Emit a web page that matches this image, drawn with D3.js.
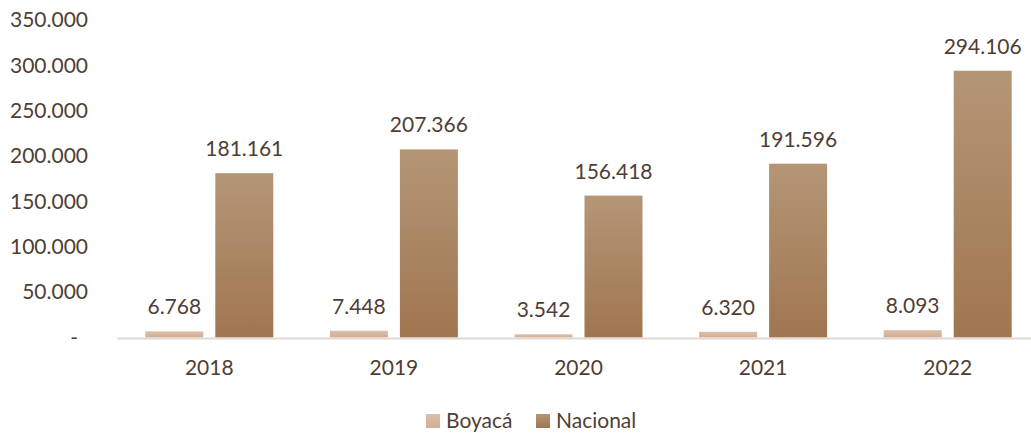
<!DOCTYPE html>
<html>
<head>
<meta charset="utf-8">
<script src="https://cdn.jsdelivr.net/npm/d3@7"></script>
<style>
  html, body { margin: 0; padding: 0; background: #fff; }
  svg { display: block; font-family: Lato, "Open Sans", sans-serif; }
</style>
</head>
<body>
<svg id="chart" width="1031" height="433"></svg>
<script>
// chart data
var years = ['2018', '2019', '2020', '2021', '2022'];
var seriesNames = ['Boyacá', 'Nacional'];
var boyaca = [6768, 7448, 3542, 6320, 8093];
var nacional = [181161, 207366, 156418, 191596, 294106];
var yTicks = [0, 50000, 100000, 150000, 200000, 250000, 300000, 350000];

var textColor = '#4f3e35';
var svg = d3.select('#chart');

var margin = {left: 117, right: -9, top: 20, bottom: 95};
var width = 1031, height = 433;

var x = d3.scaleBand()
    .domain(years)
    .range([margin.left, width - margin.right])
    .paddingInner(0).paddingOuter(0);

// two bars of ~58px with a 12px gap, centred in each band
var groupW = 128;
var xSub = d3.scaleBand()
    .domain(seriesNames)
    .range([(x.bandwidth() - groupW) / 2, (x.bandwidth() + groupW) / 2])
    .paddingInner(12 / 70)
    .paddingOuter(0);

var y = d3.scaleLinear()
    .domain([0, 350000])
    .range([height - margin.bottom - 0.5, margin.top]);

// number format with dots as thousand separators
var fmt = function(v) {
    return d3.format(',')(v).replace(/,/g, '.');
};

// gradients
var defs = svg.append('defs');
var grad = defs.append('linearGradient')
    .attr('id', 'nacGrad')
    .attr('x1', 0).attr('y1', 0).attr('x2', 0).attr('y2', 1);
grad.append('stop').attr('offset', '0%').attr('stop-color', '#b49676');
grad.append('stop').attr('offset', '100%').attr('stop-color', '#a07650');

var gradB = defs.append('linearGradient')
    .attr('id', 'boyGrad')
    .attr('x1', 0).attr('y1', 0).attr('x2', 0).attr('y2', 1);
gradB.append('stop').attr('offset', '0%').attr('stop-color', '#dcc0a9');
gradB.append('stop').attr('offset', '100%').attr('stop-color', '#d2ad94');

// y axis labels
var yAxis = svg.append('g')
    .attr('transform', 'translate(' + 88 + ',0)')
    .call(d3.axisLeft(y).tickValues(yTicks).tickSize(0).tickPadding(0)
        .tickFormat(function(d) { return d === 0 ? '-' : fmt(d); }));
yAxis.select('.domain').remove();
yAxis.selectAll('text')
    .attr('fill', textColor)
    .style('font-size', '21px')
    .style('font-family', 'Lato, "Open Sans", sans-serif');
yAxis.selectAll('.tick').filter(function(d) { return d === 0; })
    .select('text').attr('dx', -10);

var rows = years.map(function(yr, i) {
    return {year: yr, values: [
        {name: seriesNames[0], value: boyaca[i]},
        {name: seriesNames[1], value: nacional[i]}
    ]};
});

var groups = svg.selectAll('.grp')
    .data(rows)
    .enter().append('g')
    .attr('class', 'grp')
    .attr('transform', function(d) { return 'translate(' + x(d.year) + ',0)'; });

groups.selectAll('rect')
    .data(function(d) { return d.values; })
    .enter().append('rect')
    .attr('x', function(d) { return xSub(d.name); })
    .attr('width', xSub.bandwidth())
    .attr('y', function(d) { return y(d.value); })
    .attr('height', function(d) { return y(0) - y(d.value); })
    .attr('fill', function(d) { return d.name === 'Nacional' ? 'url(#nacGrad)' : 'url(#boyGrad)'; });

groups.selectAll('.lbl')
    .data(function(d) { return d.values; })
    .enter().append('text')
    .attr('class', 'lbl')
    .attr('x', function(d) { return xSub(d.name) + xSub.bandwidth() / 2; })
    .attr('y', function(d) { return y(d.value) - 17; })
    .attr('text-anchor', 'middle')
    .attr('fill', textColor)
    .style('font-size', '21px')
    .text(function(d) { return fmt(d.value); });

// baseline
svg.append('line')
    .attr('x1', margin.left).attr('x2', width)
    .attr('y1', y(0) + 1).attr('y2', y(0) + 1)
    .attr('stroke', '#e3d8d2').attr('stroke-width', 2);

// x axis labels
var xAxis = svg.append('g')
    .attr('transform', 'translate(0,' + (y(0) + 1) + ')')
    .call(d3.axisBottom(x).tickSize(0).tickPadding(22));
xAxis.select('.domain').remove();
xAxis.selectAll('text')
    .attr('fill', textColor)
    .style('font-size', '21px')
    .style('font-family', 'Lato, "Open Sans", sans-serif');

// legend
var legend = svg.append('g').attr('transform', 'translate(426,414)');
var legX = [0, 110];
seriesNames.forEach(function(name, i) {
    var g = legend.append('g').attr('transform', 'translate(' + legX[i] + ',0)');
    g.append('rect')
        .attr('width', 14).attr('height', 14)
        .attr('fill', i === 0 ? 'url(#boyGrad)' : 'url(#nacGrad)');
    g.append('text')
        .attr('x', 20).attr('y', 14)
        .attr('fill', textColor)
        .style('font-size', '21px')
        .text(name);
});
</script>
</body>
</html>
